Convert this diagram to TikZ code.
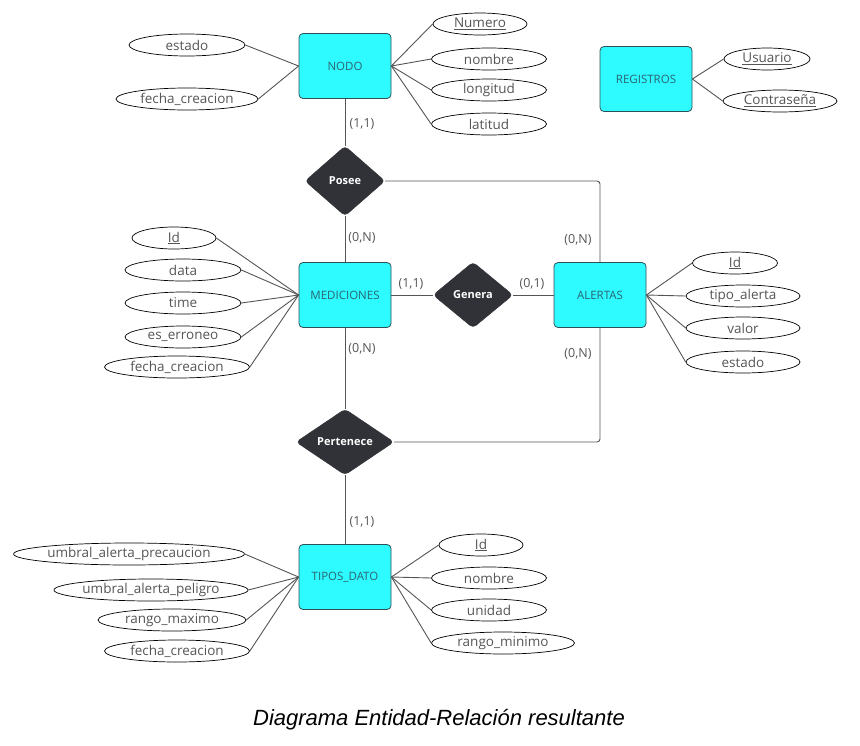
\documentclass[tikz,border=0pt]{standalone}
\usepackage{fontspec}
\setmainfont{Open Sans}
\newfontfamily\capfont{Liberation Sans}
\usetikzlibrary{shapes.geometric}
\definecolor{entfill}{HTML}{2EFBFF}
\definecolor{entdraw}{HTML}{2F4F55}
\definecolor{enttext}{HTML}{2A6470}
\definecolor{relfill}{HTML}{303237}
\definecolor{attrtext}{HTML}{555555}
\definecolor{linecol}{HTML}{555555}
\tikzset{
  entity/.style={draw=entdraw, fill=entfill, rounded corners=4, minimum width=92pt, minimum height=65pt, inner sep=0pt, text=enttext, font=\fontsize{11.5}{13}\selectfont, line width=0.8pt},
  rel/.style={diamond, draw=relfill, fill=relfill, rounded corners=4, inner sep=0pt, text=white, font=\fontsize{11}{13}\selectfont\bfseries},
  attr/.style={ellipse, draw=black, line width=0.7pt, inner sep=0pt, minimum height=22pt, text=attrtext, font=\fontsize{13.5}{15}\selectfont},
  card/.style={text=attrtext, font=\fontsize{12.5}{14}\selectfont, inner sep=0pt},
  conn/.style={draw=linecol, line width=0.9pt},
}
\begin{document}
\begin{tikzpicture}[x=1pt,y=-1pt]
\useasboundingbox (0,0) rectangle (860,745);
% entities
\node[entity] (nodo) at (345,66) {NODO};
\node[entity] (registros) at (646,79) {REGISTROS};
\node[entity] (mediciones) at (345,295) {MEDICIONES};
\node[entity] (alertas) at (600,295) {ALERTAS};
\node[entity] (tipos) at (345,577) {TIPOS\_DATO};
% relationships
\node[rel, minimum width=80pt, minimum height=70pt] (posee) at (345,181) {Posee};
\node[rel, minimum width=80pt, minimum height=66pt] (genera) at (473,295) {Genera};
\node[rel, minimum width=98pt, minimum height=66pt] (pertenece) at (345,442) {Pertenece};
% NODO attributes
\node[attr, minimum width=116pt] (n_estado) at (187,45) {estado};
\node[attr, minimum width=142pt] (n_fecha) at (187,99) {fecha\_creacion};
\node[attr, minimum width=94pt] (n_numero) at (480,24) {\underline{Numero}};
\node[attr, minimum width=115pt] (n_nombre) at (489,59) {nombre};
\node[attr, minimum width=115pt] (n_longitud) at (489,90) {longitud};
\node[attr, minimum width=115pt] (n_latitud) at (489,124) {latitud};
% REGISTROS attributes
\node[attr, minimum width=86pt] (r_usuario) at (767,59) {\underline{Usuario}};
\node[attr, minimum width=114pt] (r_contra) at (780,101) {\underline{Contraseña}};
% MEDICIONES attributes
\node[attr, minimum width=84pt] (m_id) at (174,238) {\underline{Id}};
\node[attr, minimum width=116pt] (m_data) at (183,270) {data};
\node[attr, minimum width=116pt] (m_time) at (183,303) {time};
\node[attr, minimum width=116pt] (m_err) at (183,337) {es\_erroneo};
\node[attr, minimum width=145pt] (m_fecha) at (177,367) {fecha\_creacion};
% ALERTAS attributes
\node[attr, minimum width=85pt] (a_id) at (735,263) {\underline{Id}};
\node[attr, minimum width=114pt] (a_tipo) at (743,296) {tipo\_alerta};
\node[attr, minimum width=114pt] (a_valor) at (743,328) {valor};
\node[attr, minimum width=114pt] (a_estado) at (743,362) {estado};
% TIPOS_DATO attributes
\node[attr, minimum width=226pt] (t_prec) at (129,554) {umbral\_alerta\_precaucion};
\node[attr, minimum width=194pt] (t_pel) at (151,590) {umbral\_alerta\_peligro};
\node[attr, minimum width=148pt] (t_max) at (172,620) {rango\_maximo};
\node[attr, minimum width=145pt] (t_fecha) at (177,651) {fecha\_creacion};
\node[attr, minimum width=84pt] (t_id) at (481,545) {\underline{Id}};
\node[attr, minimum width=115pt] (t_nombre) at (489,578) {nombre};
\node[attr, minimum width=115pt] (t_unidad) at (489,610) {unidad};
\node[attr, minimum width=143pt] (t_min) at (503,643) {rango\_minimo};
% attribute links
\foreach \a in {n_estado,n_fecha} \draw[conn] (nodo.west) -- (\a.east);
\foreach \a in {n_numero,n_nombre,n_longitud,n_latitud} \draw[conn] (nodo.east) -- (\a.west);
\foreach \a in {r_usuario,r_contra} \draw[conn] (registros.east) -- (\a.west);
\foreach \a in {m_id,m_data,m_time,m_err,m_fecha} \draw[conn] (mediciones.west) -- (\a.east);
\foreach \a in {a_id,a_tipo,a_valor,a_estado} \draw[conn] (alertas.east) -- (\a.west);
\foreach \a in {t_prec,t_pel,t_max,t_fecha} \draw[conn] (tipos.west) -- (\a.east);
\foreach \a in {t_id,t_nombre,t_unidad,t_min} \draw[conn] (tipos.east) -- (\a.west);
% relationship links
\draw[conn] (nodo.south) -- (posee.north);
\draw[conn] (posee.south) -- (mediciones.north);
\draw[conn, rounded corners=3] (posee.east) -- (alertas.north |- posee.east) -- (alertas.north);
\draw[conn] (mediciones.east) -- (genera.west);
\draw[conn] (genera.east) -- (alertas.west);
\draw[conn] (mediciones.south) -- (pertenece.north);
\draw[conn, rounded corners=3] (pertenece.east) -- (alertas.south |- pertenece.east) -- (alertas.south);
\draw[conn] (pertenece.south) -- (tipos.north);
% cardinalities
\node[card] (c1) at (362,124) {(1,1)};
\node[card] (c2) at (362,238) {(0,N)};
\node[card] (c3) at (578,240) {(0,N)};
\node[card] (c4) at (411,284) {(1,1)};
\node[card] (c5) at (532,284) {(0,1)};
\node[card] (c6) at (362,349) {(0,N)};
\node[card] (c7) at (578,354) {(0,N)};
\node[card] (c8) at (362,522) {(1,1)};
% caption
\node[font=\capfont\itshape\fontsize{22}{26}\selectfont, text=black] (caption) at (439,720) {Diagrama Entidad-Relación resultante};
\end{tikzpicture}
\end{document}
